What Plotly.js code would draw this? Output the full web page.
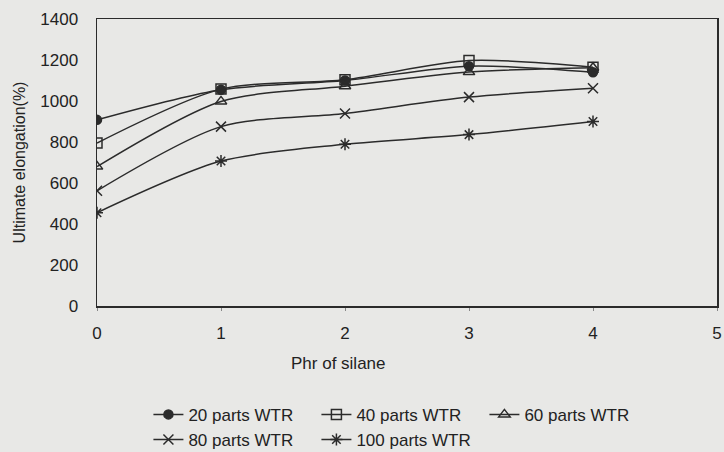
<!DOCTYPE html>
<html>
<head>
<meta charset="utf-8">
<script src="https://cdn.plot.ly/plotly-3.0.1.min.js"></script>
<style>
html,body{margin:0;padding:0;background:#e8e8e6;}
#chart{width:724px;height:452px;}
</style>
</head>
<body>
<div id="chart"></div>
<script>
const silane = [0, 1, 2, 3, 4];
const seriesNames = ["20 parts WTR", "40 parts WTR", "60 parts WTR", "80 parts WTR", "100 parts WTR"];
const wtr20 = [908, 1055, 1100, 1170, 1140];
const wtr40 = [795, 1058, 1104, 1197, 1165];
const wtr60 = [680, 998, 1072, 1141, 1162];
const wtr80 = [562, 875, 939, 1019, 1062];
const wtr100 = [455, 707, 789, 836, 900];
const xTicks = [0, 1, 2, 3, 4, 5];
const yTicks = [0, 200, 400, 600, 800, 1000, 1200, 1400];

const ink = '#2b2b2b';
const symbols = ['circle', 'square-open', 'triangle-up-open', 'x-thin-open', 'asterisk-open'];
const values = [wtr20, wtr40, wtr60, wtr80, wtr100];

const traces = values.map((v, i) => ({
  x: silane,
  y: v,
  name: seriesNames[i],
  type: 'scatter',
  mode: 'lines+markers',
  line: {color: ink, width: 1.5, shape: 'spline', smoothing: 0.8},
  marker: {
    symbol: symbols[i],
    size: i === 0 ? 9 : 10,
    color: ink,
    line: {color: ink, width: 1.5}
  }
}));

const layout = {
  width: 724,
  height: 452,
  paper_bgcolor: '#e8e8e6',
  plot_bgcolor: '#e8e8e6',
  margin: {l: 97, r: 7, t: 19, b: 146},
  font: {family: 'Liberation Sans, Arial, sans-serif', size: 17, color: '#222'},
  showlegend: true,
  xaxis: {
    range: [0, 5],
    tickvals: xTicks,
    ticktext: xTicks.map(String),
    showgrid: false,
    zeroline: false,
    showline: true,
    linecolor: ink,
    linewidth: 1.5,
    mirror: true,
    ticks: 'outside',
    ticklen: 3,
    tickcolor: '#888',
    ticklabelstandoff: 8,
    tickfont: {size: 17}
  },
  yaxis: {
    range: [0, 1400],
    tickvals: yTicks,
    ticktext: yTicks.map(String),
    showgrid: false,
    zeroline: false,
    showline: true,
    linecolor: ink,
    linewidth: 1.5,
    mirror: true,
    ticks: '',
    ticklabelstandoff: 14,
    tickfont: {size: 17},
    title: {text: 'Ultimate elongation(%)', font: {size: 16}, standoff: 10}
  },
  annotations: [{
    text: 'Phr of silane',
    xref: 'x', yref: 'paper',
    x: 1.95, y: -0.2,
    xanchor: 'center', yanchor: 'middle',
    showarrow: false,
    font: {size: 17}
  }],
  legend: {
    orientation: 'h',
    xref: 'container', yref: 'container',
    x: 0.205, y: 0.122,
    xanchor: 'left', yanchor: 'top',
    bgcolor: 'rgba(0,0,0,0)',
    entrywidth: 123,
    entrywidthmode: 'pixels',
    itemwidth: 30,
    tracegroupgap: 0,
    font: {size: 17}
  }
};

Plotly.newPlot('chart', traces, layout, {displayModeBar: false, staticPlot: true});
</script>
</body>
</html>
